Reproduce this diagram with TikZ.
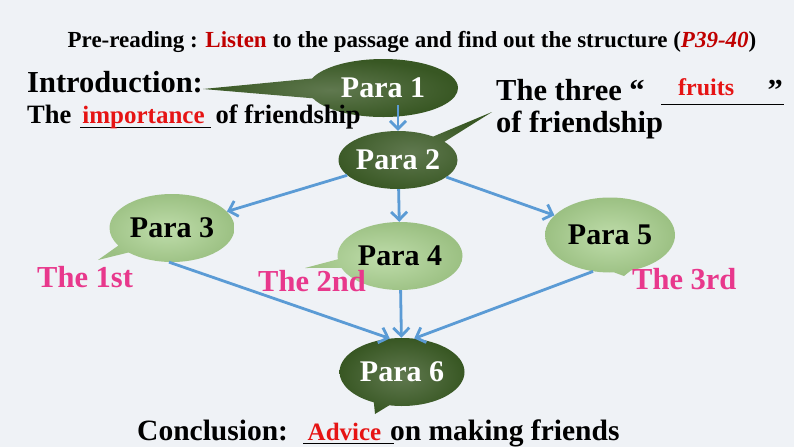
\documentclass[tikz,border=0pt]{standalone}
\usepackage{fontspec}
\setmainfont{Liberation Serif}
\usepackage{tikz}
\usetikzlibrary{arrows.meta, positioning, shapes.callouts}

\definecolor{darkleaf}{RGB}{56,87,35}
\definecolor{lightleaf}{RGB}{169,209,142}
\definecolor{arrowblue}{RGB}{91,155,213}
\definecolor{darkred}{RGB}{192,0,0}
\definecolor{brightred}{RGB}{230,20,20}
\definecolor{pinklabel}{RGB}{232,56,140}
\definecolor{bgpale}{RGB}{239,242,246}

% blank with the answer written over it (width, rule depth, word)
\newcommand{\blankword}[3]{\makebox[#1]{\rlap{\rule[-#2]{#1}{1.3pt}}\hfil\textcolor{brightred}{#3}\hfil}}

\begin{document}
\begin{tikzpicture}[
    x=1pt, y=-1pt,
    para/.style={ellipse callout, inner sep=0pt, font=\fontsize{30}{32}\selectfont\bfseries},
    darkpara/.style={para, inner color=darkleaf!80!white, outer color=darkleaf, text=white},
    lightpara/.style={para, inner color=lightleaf!75!white, outer color=lightleaf!92!black, text=black},
    flow/.style={draw=arrowblue, line width=2.8pt, -{Straight Barb[length=8pt, width=16pt]}},
    note/.style={anchor=base west, inner sep=0pt, font=\bfseries},
    tag/.style={note, text=pinklabel, font=\fontsize{30.5}{32}\selectfont\bfseries}
]
\fill[bgpale] (0,0) rectangle (794,447);

% heading
\node[anchor=base, inner sep=0pt, font=\fontsize{23}{26}\selectfont\bfseries] (title) at (412,47)
  {Pre-reading : \textcolor{darkred}{Listen} to the passage and find out the structure (\textcolor{darkred}{\itshape P39-40})};

% paragraphs
\node[darkpara, minimum width=150pt, minimum height=58pt, callout pointer arc=40,
      callout absolute pointer={(203,89)}] (p1) at (383,88) {Para 1};
\node[darkpara, minimum width=118pt, minimum height=58pt, callout absolute pointer={(492,112)}] (p2) at (398,160) {Para 2};
\node[lightpara, minimum width=125pt, minimum height=68pt, callout absolute pointer={(98,260)}] (p3) at (172,228) {Para 3};
\node[lightpara, minimum width=125pt, minimum height=68pt, callout absolute pointer={(305,268)}] (p4) at (400,256) {Para 4};
\node[lightpara, minimum width=130pt, minimum height=75pt, callout absolute pointer={(624,276)}] (p5) at (610,235) {Para 5};
\node[darkpara, minimum width=125pt, minimum height=68pt, callout absolute pointer={(375,414)}] (p6) at (402,372) {Para 6};

% structure arrows
\draw[flow] ([yshift=12pt]p1.south -| p2.north) -- (p2.north);
\draw[flow] (p2) -- (p3);
\draw[flow] (p2) -- (p4);
\draw[flow] (p2) -- (p5);
\draw[flow] (p3.-95) -- (p6.110);
\draw[flow] (p4) -- (p6);
\draw[flow] (p5.-115) -- (p6.70);

% texts
\node[note, font=\fontsize{30.5}{32}\selectfont\bfseries] (intro) at (27,92) {Introduction:};
\node[note, font=\fontsize{26.5}{28}\selectfont\bfseries] (introline) at (27,123)
  {The \blankword{131pt}{5pt}{\fontsize{25}{26}\selectfont importance} of friendship};
\node[note, font=\fontsize{30.5}{32}\selectfont\bfseries] (fruits) at (496,100)
  {The three “\blankword{123pt}{5pt}{\raisebox{5pt}{\fontsize{24}{26}\selectfont fruits}}”};
\node[note, font=\fontsize{30.5}{32}\selectfont\bfseries] (fruitsline) at (496,132) {of friendship};
\node[tag] (first) at (37,287) {The 1st};
\node[tag] (second) at (258,291) {The 2nd};
\node[tag] (third) at (632,289) {The 3rd};
\node[note, font=\fontsize{29.5}{31}\selectfont\bfseries] (concl) at (137,440)
  {Conclusion:\hspace{11pt}\blankword{91pt}{4pt}{\fontsize{25}{26}\selectfont Advice}on making friends};
\end{tikzpicture}
\end{document}
